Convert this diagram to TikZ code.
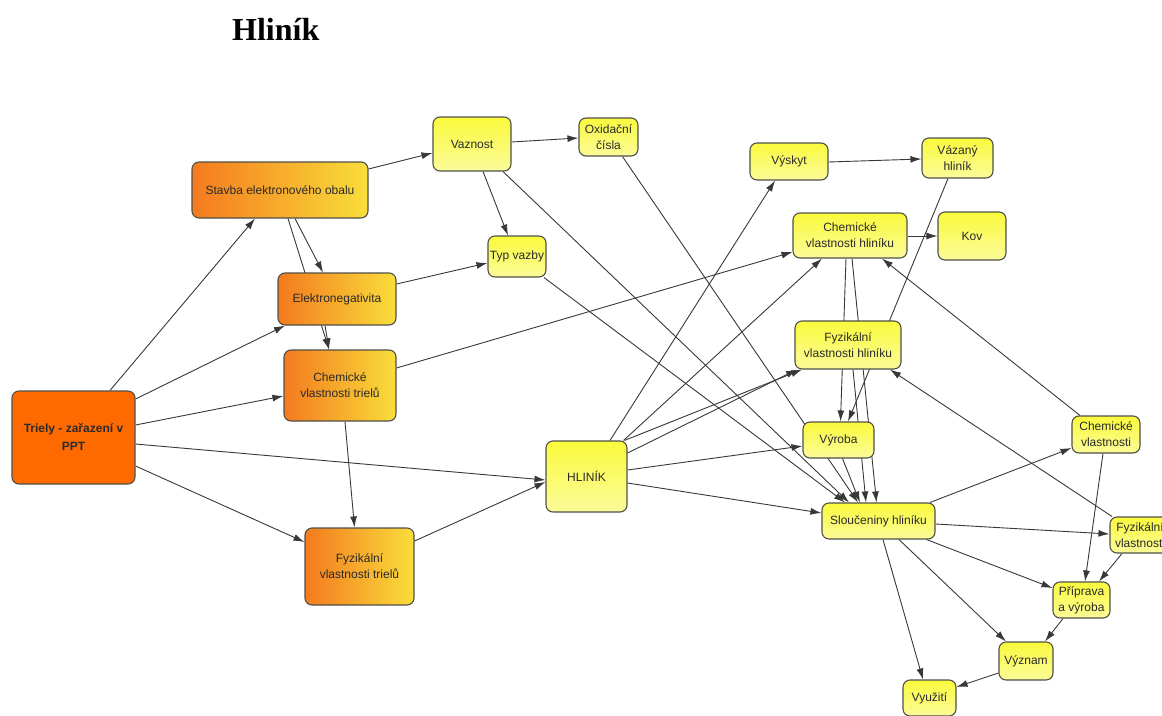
\documentclass[tikz,border=0pt]{standalone}
\usepackage{fontspec}
\setmainfont{Liberation Serif}
\setsansfont{Liberation Sans}
\usetikzlibrary{arrows.meta,backgrounds}

\definecolor{edgegray}{HTML}{383838}
\definecolor{boxline}{HTML}{505048}
\definecolor{orangeA}{HTML}{F47A1F}
\definecolor{orangeB}{HTML}{F9DE3A}
\definecolor{trielyfill}{HTML}{FF6A00}
\definecolor{yellowtop}{HTML}{FAFA3C}
\definecolor{yellowbot}{HTML}{FBFB9A}
\definecolor{boxtext}{HTML}{2A2A2A}

\begin{document}
\begin{tikzpicture}[x=1pt,y=-1pt,
  box/.style={draw=boxline, line width=1.1pt, rounded corners=7pt, inner sep=0pt,
    align=center, font=\sffamily\fontsize{12}{16}\selectfont, text=boxtext},
  sz/.style n args={2}{minimum width=#1pt, minimum height=#2pt},
  ybox/.style={box, top color=yellowtop, bottom color=yellowbot},
  obox/.style={box, left color=orangeA, right color=orangeB},
  rootbox/.style={box, fill=trielyfill, font=\sffamily\bfseries\fontsize{12}{18}\selectfont},
  link/.style={draw=edgegray, line width=0.9pt, -{Latex[length=11pt,width=7pt]}},
  heading/.style={font=\rmfamily\bfseries\fontsize{32}{32}\selectfont, anchor=base west, inner sep=0pt}
]
\path[use as bounding box] (0,0) rectangle (1162,715);
\clip (0,0) rectangle (1162,715);

% heading
\node[heading] (title) at (232,40) {Hliník};

% left part: triels
\node[rootbox, sz={123}{93}] (triely) at (73.5,437.5) {Triely - zařazení v\\PPT};
\node[obox, sz={176}{56}] (stavba) at (280,190) {Stavba elektronového obalu};
\node[obox, sz={118}{52}] (elneg) at (337,299) {Elektronegativita};
\node[obox, sz={112}{71}] (chemtr) at (340,385.5) {Chemické\\vlastnosti trielů};
\node[obox, sz={109}{77}] (fyztr) at (359.5,566.5) {Fyzikální\\vlastnosti trielů};

% bonding
\node[ybox, sz={78}{54}] (vaznost) at (472,144) {Vaznost};
\node[ybox, sz={59}{38}] (oxid) at (608.5,137) {Oxidační\\čísla};
\node[ybox, sz={58}{41}] (typ) at (517,256.5) {Typ vazby};

% aluminium
\node[ybox, sz={81}{71}] (hlinik) at (586.5,476.5) {HLINÍK};
\node[ybox, sz={78}{37}] (vyskyt) at (789,161.5) {Výskyt};
\node[ybox, sz={71}{40}] (vazany) at (957.5,158) {Vázaný\\hliník};
\node[ybox, sz={114}{45}] (chemhl) at (850,235.5) {Chemické\\vlastnosti hliníku};
\node[ybox, sz={68}{48}] (kov) at (972,236) {Kov};
\node[ybox, sz={106}{48}] (fyzhl) at (848,345) {Fyzikální\\vlastnosti hliníku};
\node[ybox, sz={71}{36}] (vyroba) at (838.5,440) {Výroba};
\node[ybox, sz={113}{36}] (slouc) at (878.5,521) {Sloučeniny hliníku};

% compounds
\node[ybox, sz={68}{37}] (chemv) at (1106,434.5) {Chemické\\vlastnosti};
\node[ybox, sz={60}{36}] (fyzv) at (1140,535) {Fyzikální\\vlastnosti};
\node[ybox, sz={57}{36}] (prip) at (1081.5,600) {Příprava\\a výroba};
\node[ybox, sz={54}{38}] (vyznam) at (1026,661) {Význam};
\node[ybox, sz={53}{36}] (vyuz) at (929.5,698) {Využití};

\begin{pgfonlayer}{background}
% from the triels
\draw[link] ([shift={(36.5,0)}]triely.north) -- ([shift={(-25,0)}]stavba.south);
\draw[link] ([shift={(0,-38.5)}]triely.east) -- ([shift={(-52,0)}]elneg.south);
\draw[link] ([shift={(0,-12.5)}]triely.east) -- ([shift={(0,10.5)}]chemtr.west);
\draw[link] ([shift={(0,6.5)}]triely.east) -- ([shift={(0,3.5)}]hlinik.west);
\draw[link] ([shift={(0,28.5)}]triely.east) -- ([shift={(0,-24.5)}]fyztr.west);
\draw[link] ([shift={(0,-21)}]stavba.east) -- ([shift={(0,9)}]vaznost.west);
\draw[link] ([shift={(15,0)}]stavba.south) -- ([shift={(-14,0)}]elneg.north);
\draw[link] ([shift={(8,0)}]stavba.south) -- ([shift={(-11,0)}]chemtr.north);
\draw[link] ([shift={(-12,0)}]elneg.south) -- ([shift={(-11,0)}]chemtr.north);
\draw[link] ([shift={(0,-15)}]elneg.east) -- ([shift={(0,6.5)}]typ.west);
\draw[link] ([shift={(0,-17.5)}]chemtr.east) -- ([shift={(0,16.5)}]chemhl.west);
\draw[link] ([shift={(5,0)}]chemtr.south) -- ([shift={(-5,0)}]fyztr.north);
\draw[link] ([shift={(0,-25.5)}]fyztr.east) -- ([shift={(0,5.5)}]hlinik.west);
% bonding
\draw[link] ([shift={(0,-2)}]vaznost.east) -- ([shift={(0,1)}]oxid.west);
\draw[link] ([shift={(11,0)}]vaznost.south) -- ([shift={(-9,0)}]typ.north);
\draw[link] ([shift={(31,0)}]vaznost.south) -- ([shift={(-29.5,0)}]slouc.north);
\draw[link] ([shift={(27,0)}]typ.south) -- ([shift={(-33.5,0)}]slouc.north);
\draw[link] ([shift={(14,0)}]oxid.south) -- ([shift={(-20.5,0)}]slouc.north);
% aluminium
\draw[link] ([shift={(4,0)}]vyroba.south) -- ([shift={(-18.5,0)}]slouc.north);
\draw[link] ([shift={(5,0)}]fyzhl.south) -- ([shift={(-12.5,0)}]slouc.north);
\draw[link] ([shift={(2,0)}]chemhl.south) -- ([shift={(-2,0)}]slouc.north);
\draw[link] ([shift={(-4,0)}]chemhl.south) -- ([shift={(2,0)}]vyroba.north);
\draw[link] ([shift={(-9.5,0)}]vazany.south) -- ([shift={(9.5,0)}]vyroba.north);
\draw[link] ([shift={(0,0.5)}]chemhl.east) -- (kov.west);
\draw[link] ([shift={(0,0.5)}]vyskyt.east) -- ([shift={(0,1)}]vazany.west);
\draw[link] ([shift={(23.5,0)}]hlinik.north) -- ([shift={(-14,0)}]vyskyt.south);
\draw[link] ([shift={(37,0)}]hlinik.north) -- ([shift={(-28,0)}]chemhl.south);
\draw[link] ([shift={(38,0)}]hlinik.north) -- ([shift={(-46,0)}]fyzhl.south);
\draw[link] ([shift={(0,-23.5)}]hlinik.east) -- ([shift={(-51,0)}]fyzhl.south);
\draw[link] ([shift={(0,-6.5)}]hlinik.east) -- ([shift={(0,6)}]vyroba.west);
\draw[link] ([shift={(0,6.5)}]hlinik.east) -- ([shift={(0,-8)}]slouc.west);
% compounds
\draw[link] ([shift={(51.5,0)}]slouc.north) -- ([shift={(0,13.5)}]chemv.west);
\draw[link] ([shift={(0,3)}]slouc.east) -- ([shift={(0,-1)}]fyzv.west);
\draw[link] ([shift={(48,0)}]slouc.south) -- ([shift={(0,-12)}]prip.west);
\draw[link] ([shift={(20.5,0)}]slouc.south) -- ([shift={(-20,0)}]vyznam.north);
\draw[link] ([shift={(4.5,0)}]slouc.south) -- ([shift={(-6.5,0)}]vyuz.north);
\draw[link] ([shift={(-26,0)}]chemv.north) -- ([shift={(32,0)}]chemhl.south);
\draw[link] ([shift={(-3,0)}]chemv.south) -- ([shift={(3.5,0)}]prip.north);
\draw[link] ([shift={(-28,0)}]fyzv.north) -- ([shift={(42,0)}]fyzhl.south);
\draw[link] ([shift={(-18,0)}]fyzv.south) -- ([shift={(17.5,0)}]prip.north);
\draw[link] ([shift={(-18.5,0)}]prip.south) -- ([shift={(19,0)}]vyznam.north);
\draw[link] ([shift={(0,12)}]vyznam.west) -- ([shift={(0,-11)}]vyuz.east);
\end{pgfonlayer}
\end{tikzpicture}
\end{document}
